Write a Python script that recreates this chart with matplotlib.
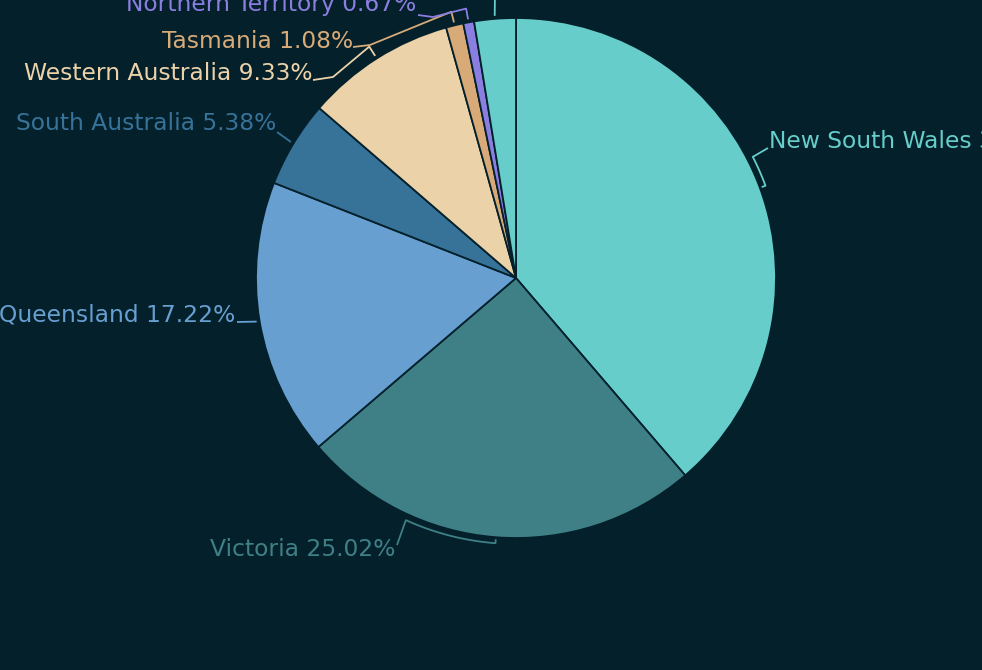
import numpy as np
import matplotlib
matplotlib.use("Agg")
import matplotlib.pyplot as plt

# data
states = ["New South Wales", "Victoria", "Queensland", "South Australia",
          "Western Australia", "Tasmania", "Northern Territory",
          "Australian Capital Territory"]
shares = [38.72, 25.02, 17.22, 5.38, 9.33, 1.08, 0.67, 2.58]
colors = ["#66cdca", "#3f8087", "#679fd0", "#377299",
          "#ebd2a9", "#d7aa78", "#8a7ee0", "#66cdca"]

bg = "#03202b"
W, H = 982, 670
cx, cy, R = 516, 278, 260   # pie centre / radius in pixels (y down)

# label layout in pixels (y down): text anchor, alignment, knee point, bracket offsets
label_pos = [(769, 142), (395, 549), (235, 315), (276, 123),
             (313, 74), (353, 41), (416, 5), (495, -45)]
label_ha = ["left", "right", "right", "right", "right", "right", "right", "center"]
leader_start = [(768, 148), (397, 545), (237, 322), (277, 132),
                (313, 80), (353, 47), (418, 15), (495, -10)]
knees = [None, None, None, None, (333, 77), (370, 45), (433, 17), None]
# bracket span relative to mid angle (deg) - leader leaves from the second end
bracket = [(0, -6.8), (0, 20), None, None, None, None, None, None]


def Y(y):
    return H - y


def pt(ang, r):
    a = np.radians(ang)
    return cx + r * np.sin(a), Y(cy - r * np.cos(a))


fig = plt.figure(figsize=(9.82, 6.70), dpi=100, facecolor=bg)
ax = fig.add_axes([0, 0, 1, 1])
ax.set_facecolor(bg)

ax.pie(shares, colors=colors, startangle=90, counterclock=False,
       radius=R, center=(cx, Y(cy)),
       wedgeprops=dict(edgecolor=bg, linewidth=1.3))

# mid angles, clockwise from 12 o'clock
ends = np.cumsum(shares) / sum(shares) * 360
starts = ends - np.array(shares) / sum(shares) * 360
mids = (starts + ends) / 2

for i, name in enumerate(states):
    col = colors[i]
    lx, ly = leader_start[i]
    if bracket[i] is not None:
        a0, a1 = mids[i] + bracket[i][0], mids[i] + bracket[i][1]
        arc = np.linspace(a0, a1, 40)
        xs = [pt(a0, 262)[0]] + [pt(a, 266)[0] for a in arc]
        ys = [pt(a0, 262)[1]] + [pt(a, 266)[1] for a in arc]
        ex, ey = pt(a1, 268)
        xs += [ex, lx]
        ys += [ey, Y(ly)]
    else:
        x0, y0 = pt(mids[i], 263)
        x1, y1 = pt(mids[i], 274 if knees[i] is not None else 263)
        xs, ys = [x0, x1], [y0, y1]
        if knees[i] is not None:
            xs.append(knees[i][0])
            ys.append(Y(knees[i][1]))
        xs.append(lx)
        ys.append(Y(ly))
    ax.plot(xs, ys, color=col, lw=1.3, solid_capstyle="butt", clip_on=False)

    tx, ty = label_pos[i]
    ax.text(tx, Y(ty), f"{name} {shares[i]:.2f}%", color=col,
            ha=label_ha[i], va="center", fontsize=16.8, family="DejaVu Sans")

ax.set_xlim(0, W)
ax.set_ylim(0, H)
ax.set_aspect("equal")
ax.set_axis_off()

fig.savefig("out.png", dpi=100, facecolor=bg)
